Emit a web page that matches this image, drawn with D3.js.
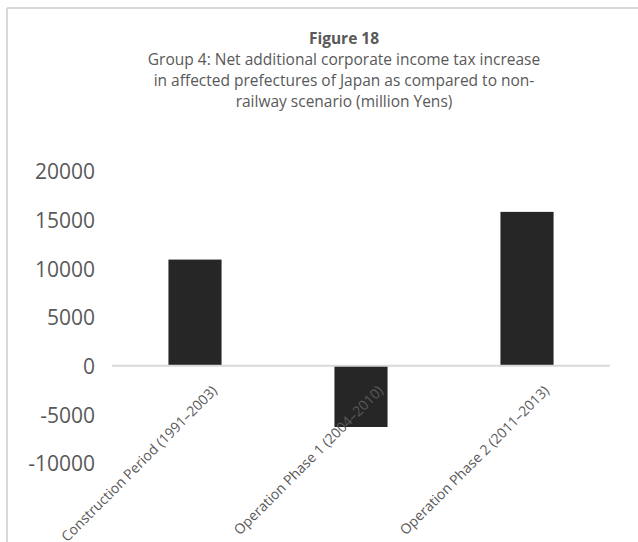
<!DOCTYPE html>
<html>
<head>
<meta charset="utf-8">
<script src="https://cdn.jsdelivr.net/npm/d3@7"></script>
<style>
  html, body { margin: 0; padding: 0; background: #fff; }
  svg { display: block; font-family: "Open Sans", sans-serif; }
</style>
</head>
<body>
<svg id="chart" width="638" height="542"></svg>
<script>
// Net additional corporate income tax increase, Group 4 (million Yens)
const categories = [
  "Construction Period (1991\u20132003)",
  "Operation Phase 1 (2004\u20132010)",
  "Operation Phase 2 (2011\u20132013)"
];
const values = [10900, -6300, 15800];
const yTicks = [-10000, -5000, 0, 5000, 10000, 15000, 20000];
const titleLines = [
  "Group 4: Net additional corporate income tax increase",
  "in affected prefectures of Japan as compared to non-",
  "railway scenario (million Yens)"
];

const svg = d3.select("#chart");
const W = 638, H = 542;

// outer frame (only the top and left edges fall inside the view)
svg.append("line").attr("x1", 7).attr("x2", W).attr("y1", 8).attr("y2", 8)
  .attr("stroke", "#d9d9d9").attr("stroke-width", 2);
svg.append("line").attr("x1", 7).attr("x2", 7).attr("y1", 8).attr("y2", H)
  .attr("stroke", "#d9d9d9").attr("stroke-width", 2);

// titles
const cx = 344;
svg.append("text").attr("x", cx).attr("y", 44)
  .attr("text-anchor", "middle").attr("font-weight", "bold")
  .attr("font-size", 15.5).attr("fill", "#595959").text("Figure 18");
svg.selectAll("text.sub").data(titleLines).join("text")
  .attr("class", "sub")
  .attr("x", cx).attr("y", (d, i) => 65 + i * 21)
  .attr("text-anchor", "middle").attr("font-size", 15.5)
  .attr("fill", "#595959").text(d => d);

// scales
const x = d3.scaleBand().domain(categories).range([112, 610]);
const y = d3.scaleLinear().domain([-10000, 20000]).range([463, 171]);

// y axis labels (no axis line, no ticks); plain hyphen for negatives
const yAxis = d3.axisLeft(y).tickValues(yTicks).tickSize(0).tickPadding(0)
  .tickFormat(d => String(d));
const gy = svg.append("g").attr("transform", "translate(95,0)").call(yAxis);
gy.select(".domain").remove();
gy.selectAll("text").attr("font-size", 21).attr("fill", "#595959")
  .attr("font-family", "Open Sans, sans-serif").attr("dy", "0.38em");

// bars
const bw = x.bandwidth() * 0.32;
svg.selectAll("rect.bar").data(values).join("rect")
  .attr("class", "bar")
  .attr("x", (d, i) => x(categories[i]) + x.bandwidth() / 2 - bw / 2)
  .attr("width", bw)
  .attr("y", d => y(Math.max(0, d)))
  .attr("height", d => Math.abs(y(d) - y(0)))
  .attr("fill", "#262626");

// zero baseline
svg.append("line")
  .attr("x1", 112).attr("x2", 610)
  .attr("y1", y(0)).attr("y2", y(0))
  .attr("stroke", "#d9d9d9").attr("stroke-width", 2);

// rotated category labels
svg.selectAll("text.cat").data(categories).join("text")
  .attr("class", "cat")
  .attr("transform", d => `translate(${x(d) + x.bandwidth() / 2 + 23},${y(0) + 26}) rotate(-45)`)
  .attr("text-anchor", "end")
  .attr("font-size", 14).attr("fill", "#595959")
  .text(d => d);
</script>
</body>
</html>
